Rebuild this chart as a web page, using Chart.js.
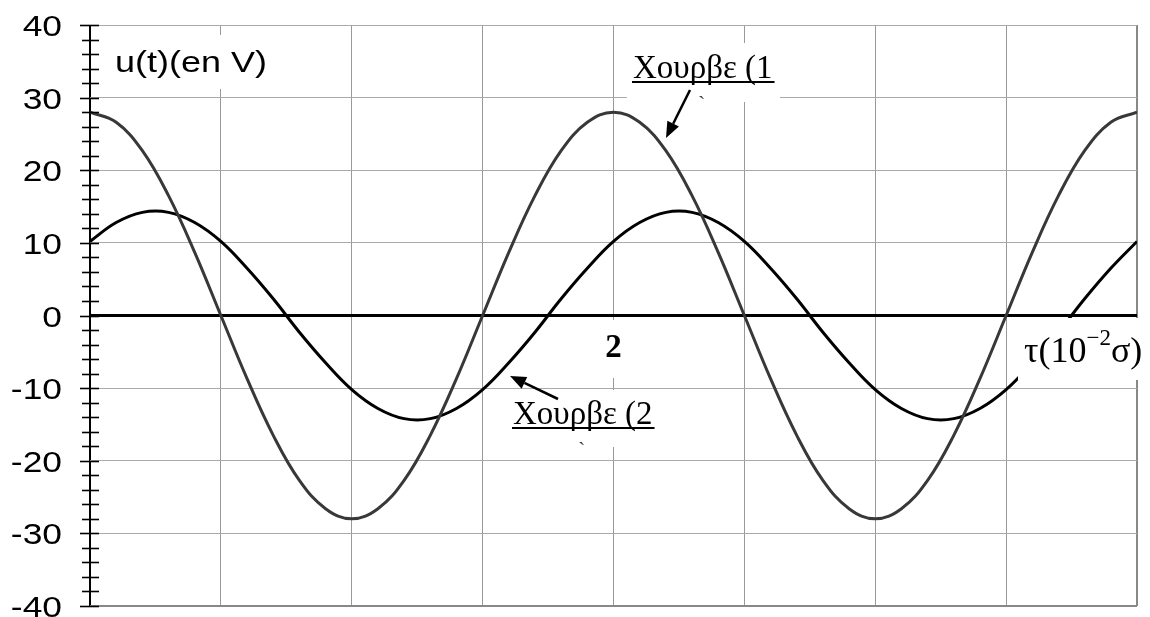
<!DOCTYPE html>
<html>
<head>
<meta charset="utf-8">
<script src="https://cdn.jsdelivr.net/npm/chart.js@4/dist/chart.umd.min.js"></script>
<style>
  body { margin: 0; background: #fff; }
  canvas { display: block; }
</style>
</head>
<body>
<canvas id="myChart" width="1150" height="617"></canvas>
<script>
// temps en 10^-2 s
const tValues = [0, 0.1, 0.2, 0.3, 0.4, 0.5, 0.6, 0.7, 0.8, 0.9,
  1, 1.1, 1.2, 1.3, 1.4, 1.5, 1.6, 1.7, 1.8, 1.9,
  2, 2.1, 2.2, 2.3, 2.4, 2.5, 2.6, 2.7, 2.8, 2.9,
  3, 3.1, 3.2, 3.3, 3.4, 3.5, 3.6, 3.7, 3.8, 3.9, 4];

// courbe 1 (grise)
const curve1 = [28, 26.6, 22.7, 16.5, 8.7, 0, -8.7, -16.5, -22.7, -26.6,
  -28, -26.6, -22.7, -16.5, -8.7, 0, 8.7, 16.5, 22.7, 26.6,
  28, 26.6, 22.7, 16.5, 8.7, 0, -8.7, -16.5, -22.7, -26.6,
  -28, -26.6, -22.7, -16.5, -8.7, 0, 8.7, 16.5, 22.7, 26.6, 28];

// courbe 2 (noire)
const curve2 = [10.2, 12.8, 14.2, 14.2, 12.8, 10.2, 6.5, 2.3, -2.3, -6.5,
  -10.2, -12.8, -14.2, -14.2, -12.8, -10.2, -6.5, -2.3, 2.3, 6.5,
  10.2, 12.8, 14.2, 14.2, 12.8, 10.2, 6.5, 2.3, -2.3, -6.5,
  -10.2, -12.8, -14.2, -14.2, -12.8, -10.2, -6.5, -2.3, 2.3, 6.5, 10.2];

const yTickLabels = [40, 30, 20, 10, 0, -10, -20, -30, -40];
const xMarkLabel = '2';

const SANS = '"Liberation Sans", Arial, sans-serif';
const SERIF = '"Liberation Serif", "Times New Roman", serif';

function toPoints(values) {
  return tValues.map((t, i) => ({ x: t, y: values[i] }));
}

function whiteBox(ctx, x, y, w, h) {
  ctx.fillStyle = '#fff';
  ctx.fillRect(x, y, w, h);
}

function arrow(ctx, x1, y1, x2, y2) {
  const ang = Math.atan2(y2 - y1, x2 - x1);
  const len = 16, half = 6.5;
  const bx = x2 - len * Math.cos(ang), by = y2 - len * Math.sin(ang);
  ctx.strokeStyle = '#000';
  ctx.lineWidth = 2.5;
  ctx.beginPath();
  ctx.moveTo(x1, y1);
  ctx.lineTo(bx, by);
  ctx.stroke();
  ctx.fillStyle = '#000';
  ctx.beginPath();
  ctx.moveTo(x2, y2);
  ctx.lineTo(bx + half * Math.sin(ang), by - half * Math.cos(ang));
  ctx.lineTo(bx - half * Math.sin(ang), by + half * Math.cos(ang));
  ctx.closePath();
  ctx.fill();
}

function underlined(ctx, text, x, y, under) {
  ctx.font = '33px ' + SERIF;
  ctx.fillStyle = '#000';
  ctx.textAlign = 'left';
  ctx.textBaseline = 'alphabetic';
  ctx.fillText(text, x, y);
  const w = ctx.measureText(text).width;
  ctx.fillRect(x - 1, under, w + 3, 2);
}

// dessin des annotations, graduations et textes
const decorPlugin = {
  id: 'decor',
  afterDatasetsDraw(chart) {
    const ctx = chart.ctx;
    const ys = chart.scales.y;
    const xs = chart.scales.x;
    ctx.save();

    // cadres blancs des étiquettes
    whiteBox(ctx, 100, 35, 175, 54);
    whiteBox(ctx, 627, 43, 153, 59);
    whiteBox(ctx, 507, 390, 153, 57);
    whiteBox(ctx, 598, 320, 32, 58);
    whiteBox(ctx, 1018, 318, 126, 62);

    // graduations de l'axe vertical
    const x0 = xs.getPixelForValue(0);
    ctx.strokeStyle = '#000';
    ctx.lineWidth = 1.6;
    for (let v = -40; v <= 40; v += 2) {
      const y = Math.round(ys.getPixelForValue(v)) + 0.5;
      ctx.beginPath();
      ctx.moveTo(x0 - (v % 10 === 0 ? 10 : 8), y);
      ctx.lineTo(x0 + 9, y);
      ctx.stroke();
    }

    // étiquettes de l'axe vertical
    ctx.fillStyle = '#000';
    ctx.font = '29px ' + SANS;
    ctx.textAlign = 'right';
    ctx.textBaseline = 'alphabetic';
    yTickLabels.forEach((v) => {
      const y = ys.getPixelForValue(v);
      ctx.save();
      ctx.translate(62, y + 11);
      ctx.scale(1.22, 1);
      ctx.fillText(String(v), 0, 0);
      ctx.restore();
    });

    // titre de l'axe
    ctx.save();
    ctx.font = '30px ' + SANS;
    ctx.textAlign = 'left';
    ctx.translate(115, 72);
    ctx.scale(1.2, 1);
    ctx.fillText('u(t)(en V)', 0, 0);
    ctx.restore();

    // repère "2" sur l'axe du temps
    ctx.font = 'bold 33px ' + SERIF;
    ctx.textAlign = 'center';
    ctx.fillText(xMarkLabel, xs.getPixelForValue(2), 357);

    // étiquettes des courbes
    underlined(ctx, 'Χουρβε (1', 633, 78, 81);
    underlined(ctx, 'Χουρβε (2', 513, 424, 427);
    ctx.font = '22px ' + SERIF;
    ctx.fillStyle = '#333';
    ctx.textAlign = 'left';
    ctx.fillText('`', 698, 111);
    ctx.fillText('`', 578, 457);

    arrow(ctx, 690, 90, 666, 138);
    arrow(ctx, 558, 399, 510, 376);

    // unité du temps
    ctx.fillStyle = '#000';
    ctx.textAlign = 'left';
    let tx = 1024;
    ctx.font = '36px ' + SERIF;
    ctx.fillText('τ(10', tx, 362);
    tx += ctx.measureText('τ(10').width;
    ctx.font = '23px ' + SERIF;
    ctx.fillText('−2', tx, 345);
    tx += ctx.measureText('−2').width;
    ctx.font = '36px ' + SERIF;
    ctx.fillText('σ)', tx, 362);

    ctx.restore();
  }
};

const ctx = document.getElementById('myChart');

new Chart(ctx, {
  type: 'line',
  data: {
    datasets: [{
      label: 'Courbe 1',
      data: toPoints(curve1),
      borderColor: '#383838',
      borderWidth: 3,
      pointRadius: 0,
      tension: 0.4,
      fill: false
    }, {
      label: 'Courbe 2',
      data: toPoints(curve2),
      borderColor: '#000',
      borderWidth: 3,
      pointRadius: 0,
      tension: 0.4,
      fill: false
    }]
  },
  options: {
    responsive: false,
    animation: false,
    devicePixelRatio: 1,
    layout: { padding: { left: 90, right: 13, top: 25, bottom: 11 } },
    plugins: {
      legend: { display: false },
      tooltip: { enabled: false }
    },
    scales: {
      x: {
        type: 'linear',
        min: 0,
        max: 4,
        ticks: { display: false, stepSize: 0.5 },
        border: { display: false },
        grid: {
          drawTicks: false,
          color: (c) => c.tick.value === 0 ? '#000' : (c.tick.value === 4 ? '#888' : '#999'),
          lineWidth: (c) => c.tick.value === 0 ? 2 : (c.tick.value === 4 ? 2 : 1)
        }
      },
      y: {
        min: -40,
        max: 40,
        ticks: { display: false, stepSize: 10 },
        border: { display: false },
        grid: {
          drawTicks: false,
          color: (c) => c.tick.value === 0 ? '#000' : (c.tick.value === -40 ? '#888' : '#aaa'),
          lineWidth: (c) => c.tick.value === 0 ? 3 : (c.tick.value === -40 ? 2 : 1)
        }
      }
    }
  },
  plugins: [decorPlugin]
});
</script>
</body>
</html>
